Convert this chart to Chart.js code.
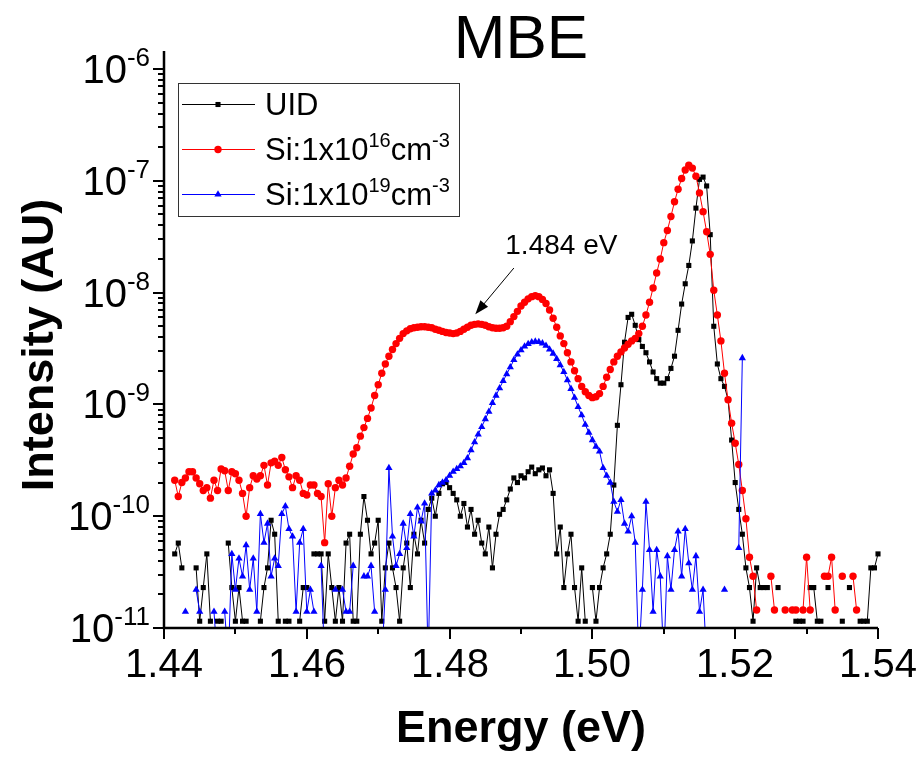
<!DOCTYPE html>
<html>
<head>
<meta charset="utf-8">
<script src="https://cdn.jsdelivr.net/npm/chart.js@4.4.1/dist/chart.umd.min.js"></script>
<style>
  html, body { margin: 0; padding: 0; background: #fff; }
  #wrap { width: 921px; height: 759px; }
</style>
</head>
<body>
<div id="wrap"><canvas id="pl" width="921" height="759"></canvas></div>
<script>
// photon energy grid (eV), shared by the three spectra
const energy = [
  1.4415, 1.4420, 1.4425, 1.4430, 1.4435, 1.4440, 1.4445, 1.4450, 1.4455, 1.4460,
  1.4465, 1.4470, 1.4475, 1.4480, 1.4485, 1.4490, 1.4495, 1.4500, 1.4505, 1.4510,
  1.4515, 1.4520, 1.4525, 1.4530, 1.4535, 1.4540, 1.4545, 1.4550, 1.4555, 1.4560,
  1.4565, 1.4570, 1.4575, 1.4580, 1.4585, 1.4590, 1.4595, 1.4600, 1.4605, 1.4610,
  1.4615, 1.4620, 1.4625, 1.4630, 1.4635, 1.4640, 1.4645, 1.4650, 1.4655, 1.4660,
  1.4665, 1.4670, 1.4675, 1.4680, 1.4685, 1.4690, 1.4695, 1.4700, 1.4705, 1.4710,
  1.4715, 1.4720, 1.4725, 1.4730, 1.4735, 1.4740, 1.4745, 1.4750, 1.4755, 1.4760,
  1.4765, 1.4770, 1.4775, 1.4780, 1.4785, 1.4790, 1.4795, 1.4800, 1.4805, 1.4810,
  1.4815, 1.4820, 1.4825, 1.4830, 1.4835, 1.4840, 1.4845, 1.4850, 1.4855, 1.4860,
  1.4865, 1.4870, 1.4875, 1.4880, 1.4885, 1.4890, 1.4895, 1.4900, 1.4905, 1.4910,
  1.4915, 1.4920, 1.4925, 1.4930, 1.4935, 1.4940, 1.4945, 1.4950, 1.4955, 1.4960,
  1.4965, 1.4970, 1.4975, 1.4980, 1.4985, 1.4990, 1.4995, 1.5000, 1.5005, 1.5010,
  1.5015, 1.5020, 1.5025, 1.5030, 1.5035, 1.5040, 1.5045, 1.5050, 1.5055, 1.5060,
  1.5065, 1.5070, 1.5075, 1.5080, 1.5085, 1.5090, 1.5095, 1.5100, 1.5105, 1.5110,
  1.5115, 1.5120, 1.5125, 1.5130, 1.5135, 1.5140, 1.5145, 1.5150, 1.5155, 1.5160,
  1.5165, 1.5170, 1.5175, 1.5180, 1.5185, 1.5190, 1.5195, 1.5200, 1.5205, 1.5210,
  1.5215, 1.5220, 1.5225, 1.5230, 1.5235, 1.5240, 1.5245, 1.5250, 1.5255, 1.5260,
  1.5265, 1.5270, 1.5275, 1.5280, 1.5285, 1.5290, 1.5295, 1.5300, 1.5305, 1.5310,
  1.5315, 1.5320, 1.5325, 1.5330, 1.5335, 1.5340, 1.5345, 1.5350, 1.5355, 1.5360,
  1.5365, 1.5370, 1.5375, 1.5380, 1.5385, 1.5390, 1.5395, 1.5400
];

// UID sample (null = no counts, not shown on log axis)
const uid = [
  4.6e-11, 5.75e-11, 3.45e-11, null, null, null, 3.45e-11, 1.15e-11, 2.3e-11, 4.6e-11,
  1.15e-11, null, 1.15e-11, 1.15e-11, null, 5.75e-11, 2.3e-11, 1.15e-11, 2.3e-11, 1.15e-11,
  1.15e-11, null, null, null, 1.15e-11, 2.3e-11, 3.45e-11, 9.2e-11, 6.9e-11, 1.15e-11,
  null, 1.15e-11, 1.15e-11, null, null, 1.15e-11, 2.3e-11, 2.3e-11, null, 4.6e-11,
  4.6e-11, 4.6e-11, 1.15e-11, 4.6e-11, 2.3e-11, 1.15e-11, 2.3e-11, 1.15e-11, 5.75e-11, 6.9e-11,
  1.15e-11, 1.15e-11, 6.9e-11, 1.5e-10, 9.2e-11, 4.6e-11, 5.75e-11, 9.2e-11, 1.15e-11, 3.45e-11,
  5.75e-11, 3.45e-11, 2.3e-11, 1.15e-11, 3.45e-11, 5.75e-11, 2.3e-11, 6.9e-11, 4.6e-11, 9.2e-11,
  5.75e-11, 1.15e-10, 1.45e-10, 1.0e-10, 1.6e-10, 1.95e-10, 2.0e-10, 1.8e-10, 1.6e-10, 1.4e-10,
  1.0e-10, 1.3e-10, 8.0e-11, 1.15e-10, 6.9e-11, 9.2e-11, 5.75e-11, 4.6e-11, 8.0e-11, 3.45e-11,
  6.9e-11, 1.04e-10, 1.15e-10, 1.4e-10, 1.75e-10, 2.2e-10, 2.0e-10, 2.3e-10, 2.2e-10, 2.5e-10,
  2.75e-10, 2.4e-10, 2.6e-10, 2.7e-10, 2.3e-10, 2.6e-10, 1.6e-10, 4.6e-11, 8.0e-11, 2.3e-11,
  4.6e-11, 6.9e-11, 2.3e-11, 1.15e-11, 3.45e-11, 1.15e-11, null, 2.3e-11, 1.15e-11, 2.3e-11,
  3.45e-11, 4.6e-11, 6.9e-11, 1.9e-10, 6.5e-10, 1.5e-9, 3.6e-9, 6.0e-9, 6.4e-9, 5.1e-9,
  3.8e-9, 3.3e-9, 2.9e-9, 2.4e-9, 1.95e-9, 1.7e-9, 1.55e-9, 1.55e-9, 1.7e-9, 2.1e-9,
  2.7e-9, 4.6e-9, 7.9e-9, 1.2e-8, 1.75e-8, 2.9e-8, 5.7e-8, 1.03e-7, 1.08e-7, 9.0e-8,
  3.3e-8, 5.0e-9, 2.3e-9, 1.7e-9, 1.45e-9, 1.1e-9, 4.8e-10, 2.0e-10, 1.15e-10, 6.9e-11,
  3.45e-11, 2.3e-11, 1.15e-11, 3.45e-11, 2.3e-11, 2.3e-11, 2.3e-11, null, null, 2.3e-11,
  null, null, null, null, 1.15e-11, 1.15e-11, 1.15e-11, null, 2.3e-11, 2.3e-11,
  1.15e-11, 1.15e-11, null, 2.3e-11, null, null, null, 1.15e-11, null, 2.3e-11,
  null, null, 1.15e-11, 1.15e-11, 1.15e-11, 3.45e-11, 3.45e-11, 4.6e-11
];

// Si:1x10^16 cm^-3
const si16 = [
  2.1e-10, 1.5e-10, 2.0e-10, 2.2e-10, 2.5e-10, 2.5e-10, 2.2e-10, 1.95e-10, 1.7e-10, 1.8e-10,
  1.45e-10, 2.1e-10, 1.7e-10, 2.65e-10, 2.55e-10, 1.7e-10, 2.5e-10, 2.4e-10, 2.1e-10, 1.6e-10,
  1.0e-10, 1.8e-10, 2.3e-10, 2.15e-10, 2.3e-10, 2.85e-10, 1.9e-10, 3.0e-10, 3.1e-10, 2.85e-10,
  3.35e-10, 2.6e-10, 2.25e-10, 1.8e-10, 2.3e-10, 2.1e-10, 1.6e-10, 1.55e-10, 1.9e-10, 1.9e-10,
  1.6e-10, 1.5e-10, 5.8e-11, 1.95e-10, 1.0e-10, 1.8e-10, 2.1e-10, 1.9e-10, 2.2e-10, 2.8e-10,
  3.6e-10, 4.1e-10, 5.2e-10, 6.2e-10, 7.5e-10, 9.3e-10, 1.2e-9, 1.5e-9, 1.9e-9, 2.3e-9,
  2.7e-9, 3.1e-9, 3.5e-9, 3.9e-9, 4.3e-9, 4.55e-9, 4.75e-9, 4.85e-9, 4.9e-9, 4.95e-9,
  4.95e-9, 4.9e-9, 4.85e-9, 4.7e-9, 4.6e-9, 4.5e-9, 4.4e-9, 4.35e-9, 4.3e-9, 4.35e-9,
  4.5e-9, 4.7e-9, 4.9e-9, 5.1e-9, 5.2e-9, 5.25e-9, 5.2e-9, 5.1e-9, 4.95e-9, 4.85e-9,
  4.8e-9, 4.8e-9, 4.85e-9, 5.0e-9, 5.5e-9, 6.1e-9, 6.8e-9, 7.6e-9, 8.2e-9, 8.8e-9,
  9.2e-9, 9.4e-9, 9.2e-9, 8.7e-9, 8.0e-9, 7.0e-9, 5.9e-9, 4.9e-9, 4.1e-9, 3.5e-9,
  2.9e-9, 2.4e-9, 2.0e-9, 1.7e-9, 1.45e-9, 1.3e-9, 1.2e-9, 1.15e-9, 1.17e-9, 1.25e-9,
  1.45e-9, 1.75e-9, 2.05e-9, 2.4e-9, 2.7e-9, 2.95e-9, 3.2e-9, 3.45e-9, 3.7e-9, 3.9e-9,
  4.3e-9, 5.0e-9, 6.3e-9, 8.2e-9, 1.1e-8, 1.5e-8, 2.0e-8, 2.8e-8, 3.6e-8, 4.8e-8,
  6.5e-8, 8.4e-8, 1.05e-7, 1.25e-7, 1.38e-7, 1.3e-7, 1.1e-7, 7.8e-8, 5.3e-8, 3.5e-8,
  2.2e-8, 1.05e-8, 6.3e-9, 3.7e-9, 1.9e-9, 1.1e-9, 6.8e-10, 4.5e-10, 2.9e-10, 1.7e-10,
  9.5e-11, 4.3e-11, 2.9e-11, 1.45e-11, null, null, null, 2.9e-11, 1.45e-11, null,
  null, 1.45e-11, null, 1.45e-11, 1.45e-11, null, 1.45e-11, 4.3e-11, 1.45e-11, null,
  null, null, 2.9e-11, 2.9e-11, 4.3e-11, 1.45e-11, null, 2.9e-11, null, null,
  2.9e-11, 1.45e-11, null, null, null, null, null, null
];

// Si:1x10^19 cm^-3 (5e-12 = reading below the axis floor)
const si19 = [
  null, null, null, 1.4e-11, null, null, 2.2e-11, 1.4e-11, null, null,
  null, 1.4e-11, 5e-12, null, 1.4e-11, 5e-12, 4.6e-11, 2.2e-11, 4.2e-11, 2.9e-11,
  5.5e-11, 2.2e-11, 4.2e-11, 1.4e-11, 1.05e-10, 5.8e-11, 8.6e-11, 2.9e-11, 4.2e-11, 3.6e-11,
  1.05e-10, 1.23e-10, 7.7e-11, 6.6e-11, 1.4e-11, 5.8e-11, 7.7e-11, 1.4e-11, 2.2e-11, 1.4e-11,
  null, 3.6e-11, 5e-12, null, null, 2.2e-11, null, 2.2e-11, 1.4e-11, 1.4e-11,
  3.6e-11, null, null, 2.9e-11, 2.9e-11, 3.6e-11, 1.4e-11, null, 5e-12, 2.2e-11,
  2.7e-10, 6.6e-11, 3.6e-11, 4.6e-11, 8.6e-11, 5.2e-11, 1.05e-10, 6.6e-11, 1.2e-10, 9.0e-11,
  1.3e-10, 5e-12, 1.6e-10, 1.7e-10, 1.9e-10, 2.0e-10, 2.1e-10, 2.3e-10, 2.5e-10, 2.65e-10,
  2.8e-10, 3.0e-10, 3.3e-10, 3.9e-10, 4.6e-10, 5.4e-10, 6.3e-10, 7.4e-10, 8.6e-10, 1.03e-9,
  1.2e-9, 1.4e-9, 1.62e-9, 1.87e-9, 2.15e-9, 2.5e-9, 2.8e-9, 3.05e-9, 3.3e-9, 3.48e-9,
  3.6e-9, 3.65e-9, 3.62e-9, 3.52e-9, 3.35e-9, 3.1e-9, 2.85e-9, 2.55e-9, 2.25e-9, 1.95e-9,
  1.65e-9, 1.38e-9, 1.15e-9, 9.5e-10, 8.0e-10, 6.6e-10, 5.6e-10, 4.8e-10, 4.2e-10, 3.8e-10,
  2.7e-10, 2.3e-10, 2.0e-10, 1.35e-10, 1.1e-10, 1.4e-10, 8.6e-11, 7.3e-11, 1.0e-10, 5.8e-11,
  5e-12, 2.2e-11, 1.35e-10, 5.0e-11, 1.4e-11, 5.0e-11, 2.9e-11, 5e-12, 4.4e-11, 2.2e-11,
  5.0e-11, 7.3e-11, 2.9e-11, 7.7e-11, 3.8e-11, 2.2e-11, 4.4e-11, 1.4e-11, 2.2e-11, 5e-12,
  null, null, null, null, 2.2e-11, null, null, null, 5.2e-11, 2.6e-9,
  null, null, null, null, null, null, null, null, null, null,
  null, null, null, null, null, null, null, null, null, null,
  null, null, null, null, null, null, null, null, null, null,
  null, null, null, null, null, null, null, null
];

const xMajorTicks = [1.44, 1.46, 1.48, 1.50, 1.52, 1.54];
const xTickLabels = ['1.44', '1.46', '1.48', '1.50', '1.52', '1.54'];
const xMinorTicks = [1.45, 1.47, 1.49, 1.51, 1.53];
const yDecades = [-11, -10, -9, -8, -7, -6];

// legend text pieces: [text, isSuperscript]
const legendLabels = [
  [['UID', 0]],
  [['Si:1x10', 0], ['16', 1], ['cm', 0], ['-3', 1]],
  [['Si:1x10', 0], ['19', 1], ['cm', 0], ['-3', 1]]
];

// arrow annotation, in data units
const noteText = '1.484 eV';
const noteAt = [1.4878, 2.2e-8];
const arrowFrom = [1.4890, 1.66e-8];
const arrowTo = [1.4836, 6.4e-9];

const FONT = '"Liberation Sans", Arial, Helvetica, sans-serif';

const styles = [
  { label: 'UID', color: '#000000', pointStyle: 'rect', radius: 3.6, order: 3, values: uid },
  { label: 'Si:1x10^16cm^-3', color: '#ff0000', pointStyle: 'circle', radius: 3.7, order: 2, values: si16 },
  { label: 'Si:1x10^19cm^-3', color: '#0000ff', pointStyle: 'triangle', radius: 4.2, order: 1, values: si19 }
];

function drawParts(ctx, parts, x, y, size, supSize, rise, align) {
  let w = 0;
  parts.forEach(([t, s]) => {
    ctx.font = (s ? supSize : size) + 'px ' + FONT;
    w += ctx.measureText(t).width;
  });
  let cx = align === 'right' ? x - w : (align === 'center' ? x - w / 2 : x);
  ctx.textAlign = 'left';
  parts.forEach(([t, s]) => {
    ctx.font = (s ? supSize : size) + 'px ' + FONT;
    ctx.fillText(t, cx, s ? y - rise : y);
    cx += ctx.measureText(t).width;
  });
}

const decor = {
  id: 'decor',
  afterDraw(chart) {
    const { ctx, chartArea: a } = chart;
    const xs = chart.scales.x, ys = chart.scales.y;
    ctx.save();
    ctx.fillStyle = '#000';
    ctx.strokeStyle = '#000';
    ctx.textBaseline = 'alphabetic';

    // axis lines (left + bottom only)
    ctx.lineWidth = 2.5;
    ctx.beginPath();
    ctx.moveTo(a.left, a.top);
    ctx.lineTo(a.left, a.bottom);
    ctx.lineTo(a.right, a.bottom);
    ctx.stroke();

    // y ticks, outward
    ctx.lineWidth = 2;
    yDecades.forEach(n => {
      for (let m = 1; m <= 9; m++) {
        const v = m * Math.pow(10, n);
        if (v > ys.max * 1.0001 || v < ys.min * 0.9999) continue;
        const py = Math.round(ys.getPixelForValue(v));
        ctx.beginPath();
        ctx.moveTo(a.left - (m === 1 ? 11 : 6), py);
        ctx.lineTo(a.left, py);
        ctx.stroke();
      }
      const py = ys.getPixelForValue(Math.pow(10, n));
      ctx.fillStyle = '#000';
      drawParts(ctx, [['10', 0], [String(n), 1]], a.left - 14, py + 14, 40, 26, 17, 'right');
    });

    // x ticks, outward
    xMajorTicks.forEach((v, i) => {
      const px = Math.round(xs.getPixelForValue(v));
      ctx.beginPath();
      ctx.moveTo(px, a.bottom);
      ctx.lineTo(px, a.bottom + 11);
      ctx.stroke();
      ctx.font = '40px ' + FONT;
      ctx.textAlign = 'center';
      ctx.fillText(xTickLabels[i], px, a.bottom + 49);
    });
    xMinorTicks.forEach(v => {
      const px = Math.round(xs.getPixelForValue(v));
      ctx.beginPath();
      ctx.moveTo(px, a.bottom);
      ctx.lineTo(px, a.bottom + 6);
      ctx.stroke();
    });

    // axis titles
    ctx.font = 'bold 45px ' + FONT;
    ctx.textAlign = 'center';
    ctx.fillText('Energy (eV)', (a.left + a.right) / 2, 742);
    ctx.save();
    ctx.translate(53, 345);
    ctx.rotate(-Math.PI / 2);
    ctx.fillText('Intensity (AU)', 0, 0);
    ctx.restore();

    // chart title
    ctx.font = '62px ' + FONT;
    ctx.fillText('MBE', 521, 58);

    // legend
    ctx.lineWidth = 1;
    ctx.strokeStyle = '#333';
    ctx.strokeRect(178.5, 83.5, 281, 133);
    styles.forEach((s, i) => {
      const ry = 104 + i * 45;
      ctx.strokeStyle = s.color;
      ctx.lineWidth = 1;
      ctx.beginPath();
      ctx.moveTo(182, ry + 0.5);
      ctx.lineTo(255, ry + 0.5);
      ctx.stroke();
      ctx.fillStyle = s.color;
      Chart.helpers.drawPoint(ctx, { pointStyle: s.pointStyle, radius: s.radius, rotation: 0, borderWidth: 0 }, 218, ry + 0.5);
      ctx.fillStyle = '#000';
      drawParts(ctx, legendLabels[i], 265, ry + 11, 31, 20, 13, 'left');
    });

    // arrow annotation
    const tx = xs.getPixelForValue(noteAt[0]), ty = ys.getPixelForValue(noteAt[1]);
    ctx.fillStyle = '#000';
    ctx.font = '28px ' + FONT;
    ctx.textAlign = 'left';
    ctx.fillText(noteText, tx, ty);
    const x0 = xs.getPixelForValue(arrowFrom[0]), y0 = ys.getPixelForValue(arrowFrom[1]);
    const x1 = xs.getPixelForValue(arrowTo[0]), y1 = ys.getPixelForValue(arrowTo[1]);
    const ang = Math.atan2(y1 - y0, x1 - x0);
    ctx.strokeStyle = '#000';
    ctx.lineWidth = 1;
    ctx.beginPath();
    ctx.moveTo(x0, y0);
    ctx.lineTo(x1 - 10 * Math.cos(ang), y1 - 10 * Math.sin(ang));
    ctx.stroke();
    ctx.beginPath();
    ctx.moveTo(x1, y1);
    ctx.lineTo(x1 - 14 * Math.cos(ang) + 5 * Math.sin(ang), y1 - 14 * Math.sin(ang) - 5 * Math.cos(ang));
    ctx.lineTo(x1 - 14 * Math.cos(ang) - 5 * Math.sin(ang), y1 - 14 * Math.sin(ang) + 5 * Math.cos(ang));
    ctx.closePath();
    ctx.fill();

    ctx.restore();
  }
};

const chart = new Chart(document.getElementById('pl').getContext('2d'), {
  type: 'line',
  data: {
    datasets: styles.map(s => ({
      label: s.label,
      data: energy.map((e, i) => ({ x: e, y: s.values[i] })),
      borderColor: s.color,
      backgroundColor: s.color,
      borderWidth: 1,
      pointStyle: s.pointStyle,
      pointRadius: s.radius,
      pointBackgroundColor: s.color,
      pointBorderWidth: 0,
      tension: 0,
      spanGaps: false,
      order: s.order,
      clip: { left: 6, top: 0, right: 6, bottom: 0 }
    }))
  },
  options: {
    responsive: false,
    devicePixelRatio: 1,
    animation: false,
    events: [],
    layout: { padding: { left: 164, right: 43, top: 51, bottom: 131 } },
    scales: {
      x: { type: 'linear', min: 1.44, max: 1.54, display: false },
      y: { type: 'logarithmic', min: 1e-11, max: 1.45e-6, display: false }
    },
    plugins: {
      legend: { display: false },
      tooltip: { enabled: false },
      title: { display: false }
    }
  },
  plugins: [decor]
});
</script>
</body>
</html>
